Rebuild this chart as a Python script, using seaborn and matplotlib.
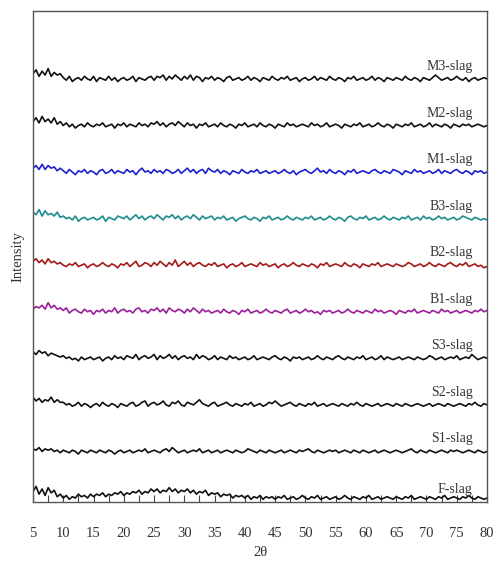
import numpy as np
import pandas as pd
import matplotlib
matplotlib.use("Agg")
import matplotlib.pyplot as plt
import seaborn as sns

# 2-theta grid (degrees), one reading every 0.5 degree from 5 to 80
two_theta = [5 + 0.5 * i for i in range(151)]

labels = ["F-slag", "S1-slag", "S2-slag", "S3-slag", "B1-slag",
          "B2-slag", "B3-slag", "M1-slag", "M2-slag", "M3-slag"]
colors = ["#111111", "#111111", "#111111", "#111111", "#9b1f9b",
          "#a31a1a", "#1d8c8c", "#1f1fcf", "#111111", "#111111"]

F = [5,9,3,7,2,8,4,6,1,3, 0,2,-1,1,0,3,1,2,0,3, 1,3,2,4,1,3,2,4,3,5,
     2,4,3,5,4,6,3,5,4,7, 5,7,4,6,5,8,5,7,4,6, 5,7,4,6,3,5,4,6,2,4,
     3,4,1,3,2,3,0,2,1,2, 0,2,-1,1,0,2,-1,1,0,1, -1,1,0,2,-1,0,1,-1,0,2,
     0,-1,1,0,2,-1,0,1,-1,0, 1,-1,0,2,0,-1,1,0,-1,1, 0,2,-1,0,1,-1,0,1,0,-1,
     1,0,-1,1,0,2,-1,0,1,0, -1,1,0,-1,1,0,2,-1,0,1, 0,-1,1,0,2,0,-1,1,0,-1, 0]
S1 = [2,1,3,0,2,1,2,0,1,-1, 1,0,-1,1,0,-2,1,0,-1,1, 0,-1,1,0,-1,1,0,-2,0,1,
      -1,0,1,-1,0,1,0,2,-1,0, 1,0,-1,1,2,0,3,1,-1,0, 1,-1,0,1,0,2,-1,0,1,-1,
      0,1,-1,0,1,0,-1,1,0,-1, 0,2,1,0,-1,1,0,-1,1,0, -1,0,1,-1,0,1,0,-1,1,0,
      1,2,0,-1,1,0,-1,0,1,0, 1,-1,0,1,0,-1,1,0,-1,1, 0,-1,0,1,-1,0,1,0,-1,0,
      1,0,-1,0,1,2,0,-1,1,0, -1,1,0,-1,0,1,0,-1,1,0, 1,0,-1,0,1,0,-1,1,0,-1, 0]
S2 = [6,3,5,2,4,3,6,2,4,2, 2,0,1,-1,0,2,-1,1,0,-2, 0,1,-1,2,0,-1,1,0,-2,1,
      0,-1,1,2,-1,0,2,3,-1,1, 2,0,1,3,0,-1,2,1,3,0, -1,2,1,0,2,4,1,0,-1,1,
      2,-1,0,1,2,0,-1,1,0,-1, 1,0,2,-1,0,1,-1,0,2,1, 3,1,-1,0,1,2,0,-1,1,0,
      -1,1,0,2,-1,0,1,-1,0,1, 0,-1,1,0,-1,1,0,2,0,-1, 1,0,-1,0,1,-1,0,1,0,-1,
      1,0,-1,1,0,-1,0,1,0,-1, 0,1,-1,0,1,0,-1,1,0,-1, 0,1,0,-1,1,0,2,0,-1,1, 0]
S3 = [5,3,6,4,5,2,4,3,2,1, 2,0,1,-1,0,-2,1,-1,0,1, -1,0,1,-2,0,1,-1,2,0,1,
      -1,2,1,0,3,-1,1,2,0,1, 3,-1,2,0,1,3,0,2,-1,1, 2,0,1,-1,3,0,2,1,-1,0,
      2,-1,1,0,-1,2,0,1,-1,0, 1,-1,0,2,-1,0,1,0,-1,1, 2,0,-1,1,0,-2,1,0,1,-1,
      0,1,-1,0,2,0,-1,1,0,-1, 1,2,0,-1,1,0,-1,1,0,2, -1,0,1,-1,0,2,-1,1,0,-1,
      0,1,-1,0,1,0,-1,1,0,-1, 0,2,1,-1,0,1,-1,0,1,0, 2,-1,0,1,0,3,1,-1,0,1, 0]
B1 = [2,4,3,5,2,7,3,5,2,3, 1,3,-1,1,2,0,-1,2,0,1, -2,1,0,2,-1,1,0,3,-1,1,
      2,0,1,-1,2,3,0,1,-1,2, 1,3,0,2,-1,3,1,0,2,1, -1,2,0,3,1,-1,2,0,1,-1,
      0,1,-1,2,0,-1,1,0,-2,1, 0,2,-1,0,1,-1,0,2,0,-1, 1,0,-1,1,2,-1,0,1,-1,0,
      2,0,1,-1,0,-2,1,0,1,-1, 0,1,-1,0,2,0,-1,1,0,-1, 1,0,-1,2,0,1,-1,0,1,0,
      -2,1,0,-1,1,0,2,-1,0,1, 0,-1,1,0,-1,2,0,1,-1,0, 1,-1,0,1,0,-1,1,0,2,0, 1]
B2 = [3,5,2,4,1,5,2,3,1,2, 0,-1,1,0,2,-1,0,1,-2,0, 1,-1,0,2,0,-1,1,0,-2,1,
      0,2,-1,1,3,-1,0,2,1,-1, 2,0,3,1,-1,2,0,4,-1,1, 3,0,2,-1,1,2,0,-1,1,0,
      2,-1,0,1,-2,0,1,-1,0,2, -1,0,1,0,-1,2,0,1,-1,0, 1,-2,0,1,-1,0,2,0,-1,1,
      0,-1,1,0,-2,1,0,2,-1,0, 1,0,-1,2,0,-1,1,0,-2,1, 0,-1,1,0,2,-1,0,1,0,-1,
      1,0,-1,0,2,1,-1,0,1,-1, 0,2,0,-1,1,0,-1,1,2,0, -1,1,0,2,-1,0,1,-1,0,-2, -1]
B3 = [5,3,7,2,6,3,4,2,5,1, 2,0,1,-1,2,-2,0,1,-1,0, 1,-1,0,2,-2,1,0,-1,2,1,
      0,2,-1,1,3,0,2,-1,1,2, 0,3,1,-1,2,1,3,0,2,-1, 1,2,0,3,1,-1,2,0,1,2,
      -1,1,0,2,-1,0,1,-2,0,1, 2,0,-1,1,0,-2,1,0,2,-1, 0,1,-1,0,2,0,-1,1,0,-1,
      1,0,2,-1,0,1,-1,0,2,0, -1,1,0,-2,1,2,0,-1,1,0, 2,-1,0,1,-1,0,2,0,-1,1,
      0,-1,1,0,2,-1,0,1,-1,2, 0,1,-1,0,2,0,1,-1,0,1, -1,0,2,1,0,-1,1,0,-1,0, -1]
M1 = [3,5,2,6,2,5,3,4,1,3, 1,-1,2,0,-2,1,0,2,-1,1, 0,-2,1,2,-1,0,2,-1,1,0,
      -1,2,0,1,-2,1,3,0,1,-1, 2,0,1,-1,2,1,-1,0,2,-1, 1,3,0,2,-1,1,2,-1,3,1,
      0,2,-1,1,0,-2,1,0,-1,2, 0,-1,1,0,2,-1,0,1,-1,0, 1,-1,0,2,0,-1,1,-2,0,1,
      2,0,-1,1,3,0,1,-1,2,0, -1,1,0,-2,1,0,2,-1,0,1, 0,-1,1,2,0,-1,1,0,-1,2,
      1,0,-2,1,0,-1,2,0,1,-1, 0,1,-1,0,2,-1,1,0,-1,1, 2,0,-1,1,0,-2,1,0,1,-1, 0]
M2 = [3,6,2,7,3,5,2,6,1,3, 0,2,-1,1,-2,0,1,-1,2,0, -1,1,0,2,-1,0,1,-2,1,0,
      2,-1,1,0,-1,2,0,1,-1,2, 1,3,0,2,-1,1,2,0,3,1, -1,2,0,1,-2,1,0,2,-1,0,
      1,-1,2,0,-1,1,0,-2,1,0, 2,-1,0,1,-1,2,0,-1,1,0, -2,1,0,-1,2,0,1,-1,0,1,
      0,-1,2,0,1,-1,0,2,-1,0, 1,0,-2,1,0,-1,1,0,2,-1, 0,1,-1,0,2,0,-1,1,0,-2,
      1,0,-1,1,0,2,-1,0,1,-1, 0,2,-1,1,0,-1,1,0,-2,1, 0,-1,1,0,1,-1,0,1,0,-1, 0]
M3 = [4,7,2,6,3,8,2,5,3,4, 1,-1,2,-2,0,1,-1,2,0,-1, 2,-2,1,0,-1,2,-1,1,-2,0,
      1,-1,0,2,-2,1,0,-1,1,2, -1,2,1,3,-1,2,0,3,1,-1, 2,0,3,-1,2,1,-2,1,0,2,
      -1,1,0,-2,1,2,-1,0,1,-1, 0,2,-1,1,0,-2,1,0,-1,2, 0,-1,1,0,2,-1,0,1,-2,0,
      1,-1,0,2,-1,1,0,-1,2,0, -1,1,0,-2,1,0,2,-1,0,1, -1,0,2,-1,1,0,-2,1,0,-1,
      1,0,-1,2,0,-1,1,0,-2,1, 0,-1,1,3,1,-1,0,1,-1,0, 2,0,-1,1,-2,0,1,-1,0,1, 0]

series = [F, S1, S2, S3, B1, B2, B3, M1, M2, M3]
for s in series:
    assert len(s) == len(two_theta), len(s)

STEP = 36.0                 # vertical stacking offset between patterns
PX = STEP / 46.6            # data units per pixel in the stacked layout

rows = []
for k, (lab, vals) in enumerate(zip(labels, series)):
    for x, v in zip(two_theta, vals):
        rows.append({"2theta": x, "intensity": v + k * STEP, "sample": lab})
df = pd.DataFrame(rows)

sns.set_theme(style="white")
plt.rcParams["font.family"] = ["Liberation Serif", "DejaVu Serif"]

fig = plt.figure(figsize=(4.94, 5.63), dpi=100)
ax = fig.add_axes([0.0668, 0.1083, 0.9190, 0.8722])

sns.lineplot(data=df, x="2theta", y="intensity", hue="sample",
             palette=dict(zip(labels, colors)), hue_order=labels,
             linewidth=1.2, legend=False, ax=ax, estimator=None, sort=False)

for k, lab in enumerate(labels):
    dy = (8.5 if k == 0 else 12.5) * PX
    ax.text(77.6, k * STEP + dy, lab, ha="right", va="center",
            fontsize=10, color="#333333")

ax.set_xlim(5, 80)
ax.set_ylim(-4 * PX, 9 * STEP + 68 * PX)
ax.set_xticks(list(range(5, 81, 5)))
ax.set_xticks([x + 2.5 for x in range(5, 80, 5)], minor=True)
ax.set_yticks([])
ax.tick_params(axis="x", which="both", direction="in", length=5, width=0.8,
               color="#444444", labelsize=10.5, labelcolor="#333333", pad=18,
               bottom=True)
for sp in ax.spines.values():
    sp.set_color("#555555")
    sp.set_linewidth(1.0)

ax.set_xlabel("2θ", fontsize=10.5, color="#333333", labelpad=4)
ax.set_ylabel("Intensity", fontsize=10.5, color="#333333", labelpad=6)

fig.savefig("out.png", dpi=100)
